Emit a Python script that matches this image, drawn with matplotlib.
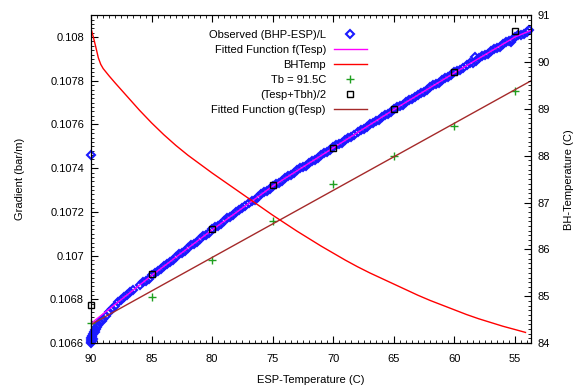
import matplotlib
matplotlib.use('Agg')
import matplotlib.pyplot as plt
from matplotlib.ticker import MultipleLocator, FuncFormatter

plt.rcParams['font.family'] = ['Liberation Sans Narrow', 'Liberation Sans', 'DejaVu Sans']
plt.rcParams['font.size'] = 8

# observed gradient (BHP-ESP)/L against ESP temperature
obs_t = [90.0, 90.0, 90.0, 90.0, 90.0, 89.95, 89.95, 89.9, 89.85, 89.8, 89.75, 89.7,
         89.65, 89.6, 89.5, 89.4, 89.25, 89.1, 89.0, 88.75, 88.5, 88.25, 88.0, 87.75,
         87.5, 87.25, 87.0, 86.75, 86.5, 86.0, 85.5, 85.0, 84.5, 84.0, 83.5, 83.0,
         82.5, 82.0, 81.5, 81.0, 80.5, 80.0, 79.5, 79.0, 78.5, 78.0, 77.5, 77.0,
         76.5, 76.0, 75.5, 75.0, 74.5, 74.0, 73.5, 73.0, 72.5, 72.0, 71.5, 71.0,
         70.5, 70.0, 69.5, 69.0, 68.5, 68.0, 67.5, 67.0, 66.5, 66.0, 65.5, 65.0,
         64.5, 64.0, 63.5, 63.0, 62.5, 62.0, 61.5, 61.0, 60.5, 60.0, 59.5, 59.0,
         58.5, 58.3, 58.0, 57.5, 57.0, 56.5, 56.0, 55.5, 55.3, 55.0, 54.5, 54.0, 53.8]
obs_g = [0.106600, 0.106607, 0.106615, 0.106622, 0.107461, 0.106610, 0.106628, 0.106632,
         0.106620, 0.106641, 0.106649, 0.106652, 0.106660, 0.106664, 0.106673, 0.106681,
         0.106695, 0.106703, 0.106711, 0.106725, 0.106743, 0.106755, 0.106770, 0.106786,
         0.106798, 0.106809, 0.106821, 0.106832, 0.106843, 0.106866, 0.106885, 0.106910,
         0.106929, 0.106953, 0.106970, 0.106995, 0.107012, 0.107036, 0.107053, 0.107078,
         0.107095, 0.107120, 0.107136, 0.107160, 0.107176, 0.107200, 0.107216, 0.107240,
         0.107256, 0.107280, 0.107296, 0.107319, 0.107334, 0.107355, 0.107369, 0.107390,
         0.107404, 0.107425, 0.107439, 0.107460, 0.107474, 0.107495, 0.107509, 0.107530,
         0.107544, 0.107565, 0.107579, 0.107600, 0.107614, 0.107635, 0.107649, 0.107670,
         0.107683, 0.107704, 0.107716, 0.107737, 0.107750, 0.107771, 0.107784, 0.107804,
         0.107817, 0.107838, 0.107850, 0.107871, 0.107883, 0.107910, 0.107903, 0.107916,
         0.107936, 0.107949, 0.107969, 0.107982, 0.107975, 0.108002, 0.108011, 0.108025,
         0.108031]

# more observed readings, between the ones above
obs_t2 = [85.75, 85.25, 84.75, 84.25, 83.75, 83.25, 82.75, 82.25, 81.75, 81.25, 80.75,
          80.25, 79.75, 79.25, 78.75, 78.25, 77.75, 77.25, 76.75, 76.25, 75.75, 75.25,
          74.75, 74.25, 73.75, 73.25, 72.75, 72.25, 71.75, 71.25, 70.75, 70.25, 69.75,
          69.25, 68.75, 68.25, 67.75, 67.25, 66.75, 66.25, 65.75, 65.25, 64.75, 64.25,
          63.75, 63.25, 62.75, 62.25, 61.75, 61.25, 60.75, 60.25, 59.75, 59.25, 58.75,
          58.25, 57.75, 57.25, 56.75, 56.25, 55.75, 55.25, 54.75, 54.25]
obs_g2 = [0.106878, 0.106895, 0.106921, 0.106938, 0.106964, 0.106980, 0.107006, 0.107022,
          0.107047, 0.107063, 0.107089, 0.107105, 0.107130, 0.107146, 0.107170, 0.107186,
          0.107210, 0.107226, 0.107250, 0.107266, 0.107290, 0.107305, 0.107329, 0.107342,
          0.107364, 0.107377, 0.107399, 0.107412, 0.107434, 0.107447, 0.107469, 0.107482,
          0.107504, 0.107517, 0.107539, 0.107552, 0.107574, 0.107587, 0.107609, 0.107622,
          0.107644, 0.107657, 0.107678, 0.107691, 0.107712, 0.107724, 0.107745, 0.107758,
          0.107779, 0.107792, 0.107812, 0.107825, 0.107846, 0.107858, 0.107879, 0.107890,
          0.107911, 0.107923, 0.107944, 0.107956, 0.107977, 0.107988, 0.108008, 0.108016]

# fitted function f(Tesp)
f_t = [90, 85, 80, 75, 70, 65, 60, 55, 53.7]
f_g = [0.106690, 0.106909, 0.107118, 0.107318, 0.107493, 0.107668, 0.107836, 0.108000, 0.108030]

# bottom hole temperature (right axis)
bh_t = [89.95, 89.8, 89.6, 89.4, 89.2, 89.0, 88.5, 88.0, 87.0, 86.0, 85.0, 84.0, 83.0,
        82.0, 81.0, 80.0, 79.0, 78.0, 77.0, 76.0, 75.0, 74.0, 73.0, 72.0, 71.0, 70.0,
        69.0, 68.0, 67.0, 66.0, 65.0, 64.0, 63.0, 62.0, 61.0, 60.0, 59.0, 58.0, 57.0,
        56.0, 55.0, 54.13]
bh_v = [90.665, 90.52, 90.31, 90.09, 89.95, 89.86, 89.70, 89.55, 89.26, 88.97, 88.70,
        88.45, 88.22, 88.01, 87.82, 87.63, 87.45, 87.27, 87.09, 86.91, 86.73, 86.56,
        86.39, 86.23, 86.07, 85.92, 85.77, 85.63, 85.50, 85.38, 85.26, 85.14, 85.02,
        84.91, 84.81, 84.71, 84.61, 84.52, 84.44, 84.36, 84.29, 84.228]

# Tb = 91.5C points
tb_t = [90, 85, 80, 75, 70, 65, 60, 55]
tb_g = [0.106691, 0.106810, 0.106982, 0.107159, 0.107330, 0.107458, 0.107594, 0.107753]

# (Tesp+Tbh)/2 points
sq_t = [90, 85, 80, 75, 70, 65, 60, 55]
sq_g = [0.106773, 0.106914, 0.107123, 0.107323, 0.107491, 0.107671, 0.107838, 0.108026]

# fitted function g(Tesp)
g_t = [90, 53.7]
g_g = [0.106685, 0.107799]

fig = plt.figure(figsize=(5.8, 3.89), dpi=100)
ax = fig.add_axes([0.157, 0.118, 0.758, 0.843])
ax2 = ax.twinx()

ax.plot(obs_t + obs_t2, obs_g + obs_g2, linestyle='none', marker='D', ms=4.5, mfc='none',
        mec='#1a1aff', mew=1.5, clip_on=False, label='Observed (BHP-ESP)/L')
ax.plot(f_t, f_g, color='#ff00ff', lw=1, label='Fitted Function f(Tesp)')
ax2.plot(bh_t, bh_v, color='#ff0000', lw=1, label='BHTemp')
ax.plot(tb_t, tb_g, linestyle='none', marker='+', ms=6, mew=1, color='#20a020',
        clip_on=False, label='Tb = 91.5C')
ax.plot(sq_t, sq_g, linestyle='none', marker='s', ms=5, mfc='none', mec='black',
        mew=1, clip_on=False, label='(Tesp+Tbh)/2')
ax.plot(g_t, g_g, color='#a52a2a', lw=1, label='Fitted Function g(Tesp)')

ax.set_xlim(90, 53.7)
ax.set_ylim(0.1066, 0.1081)
ax2.set_ylim(84, 91)

ax.xaxis.set_major_locator(MultipleLocator(5))
ax.xaxis.set_minor_locator(MultipleLocator(0.5))
ax.yaxis.set_major_locator(MultipleLocator(0.0002))
ax.yaxis.set_minor_locator(MultipleLocator(0.00002))
ax.yaxis.set_major_formatter(FuncFormatter(lambda v, p: '%g' % round(v, 6)))
ax.xaxis.set_major_formatter(FuncFormatter(lambda v, p: '%g' % v))
ax2.yaxis.set_major_locator(MultipleLocator(1))
ax2.yaxis.set_minor_locator(MultipleLocator(0.1))

ax.tick_params(which='both', direction='in', top=True, right=False, colors='black')
ax.tick_params(which='major', length=5, width=0.8)
ax.tick_params(which='minor', length=2.5, width=0.6)
ax.tick_params(axis='x', pad=8)
ax.tick_params(axis='y', pad=5)
ax2.tick_params(which='both', direction='in')
ax2.tick_params(which='major', length=5, width=0.8, pad=5)
ax2.tick_params(which='minor', length=2.5, width=0.6)

ax.set_xlabel('ESP-Temperature (C)', labelpad=8)
ax.set_ylabel('Gradient (bar/m)', labelpad=18)
ax2.set_ylabel('BH-Temperature (C)', labelpad=10)

h1, l1 = ax.get_legend_handles_labels()
h2, l2 = ax2.get_legend_handles_labels()
hs = [h1[0], h1[1], h2[0], h1[2], h1[3], h1[4]]
ls = [l1[0], l1[1], l2[0], l1[2], l1[3], l1[4]]
ax2.legend(hs, ls, loc='upper right', bbox_to_anchor=(367 / 580, 1 - 30 / 389),
           bbox_transform=fig.transFigure, markerfirst=False, frameon=False,
           handlelength=3.0, handletextpad=0.7, labelspacing=0.45, borderpad=0,
           borderaxespad=0, numpoints=1)

fig.savefig('out.png', dpi=100)
